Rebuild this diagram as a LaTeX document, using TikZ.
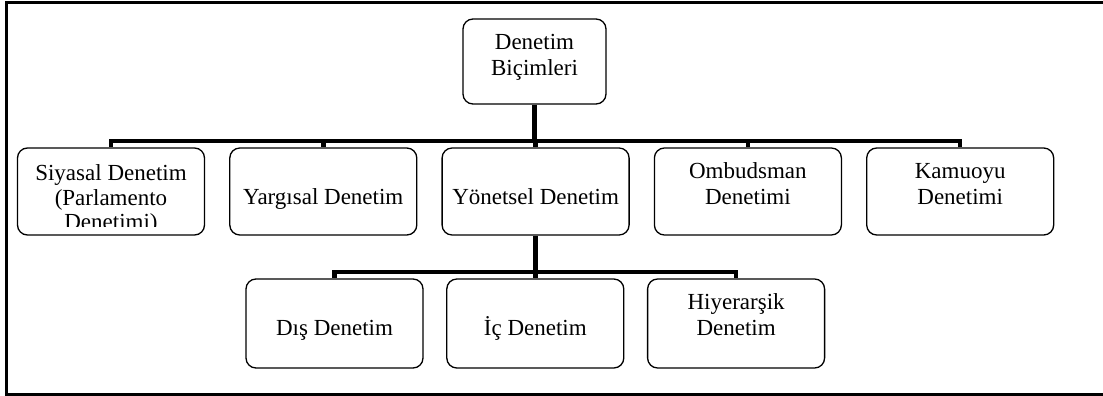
\documentclass[tikz,border=0pt]{standalone}
\usepackage{fontspec}
\setmainfont{Liberation Serif}
\usetikzlibrary{positioning}
\tikzset{
  kutu/.style={draw,rounded corners=10pt,line width=1.3pt,
        minimum width=187pt,minimum height=87pt,align=center,
        inner sep=0pt,text height=30pt,text depth=5pt,
        font=\fontsize{23}{26}\selectfont},
  altkutu/.style={kutu,minimum width=177pt,minimum height=89pt,
        text height=28pt},
  yazi/.style={align=center,inner sep=0pt,font=\fontsize{23}{24.5}\selectfont},
  baglanti/.style={line width=4.5pt}
}

\begin{document}
\begin{tikzpicture}[x=1pt,y=-1pt]
  \useasboundingbox (0,0) rectangle (1103,396);
  % Frame (right side falls outside the page)
  \draw[line width=3pt] (1120,3) -- (6,3) -- (6,394.5) -- (1120,394.5);
  % Top node
  \node[kutu,minimum width=143pt,minimum height=85pt,text height=32pt]
        (root) at (534.5,61.5) {Denetim\\Biçimleri};
  % First level
  \node[kutu] (siyasal) at (111,191.5) {};
  \node[kutu,right=24pt of siyasal] (yargisal) {Yargısal Denetim};
  \node[kutu,right=24pt of yargisal] (yonetsel) {Yönetsel Denetim};
  \node[kutu,right=24pt of yonetsel] (ombudsman) {Ombudsman\\Denetimi};
  \node[kutu,right=24pt of ombudsman] (kamuoyu) {Kamuoyu\\Denetimi};
  \begin{scope}
    \clip (siyasal.north west) rectangle (siyasal.east |- 0,226);
    \node[yazi] (siyasalyazi) at (111,199.5)
          {Siyasal Denetim\\(Parlamento\\Denetimi)};
  \end{scope}
  % Second level
  \node[altkutu] (dis) at (334.5,323.5) {Dış Denetim};
  \node[altkutu,right=22.5pt of dis] (ic) {İç Denetim};
  \node[altkutu,right=22.5pt of ic] (hiyerarsik) {Hiyerarşik\\Denetim};
  % Connectors
  \coordinate (ust) at (root.south |- 0,141);
  \draw[baglanti] (root.south) -- (ust);
  \foreach \n in {siyasal,yargisal,yonetsel,ombudsman,kamuoyu}
    \draw[baglanti] (ust) -| (\n.north);
  \coordinate (alt) at (yonetsel.south |- 0,272);
  \draw[baglanti] (yonetsel.south) -- (alt);
  \foreach \n in {dis,ic,hiyerarsik}
    \draw[baglanti] (alt) -| (\n.north);
\end{tikzpicture}
\end{document}
